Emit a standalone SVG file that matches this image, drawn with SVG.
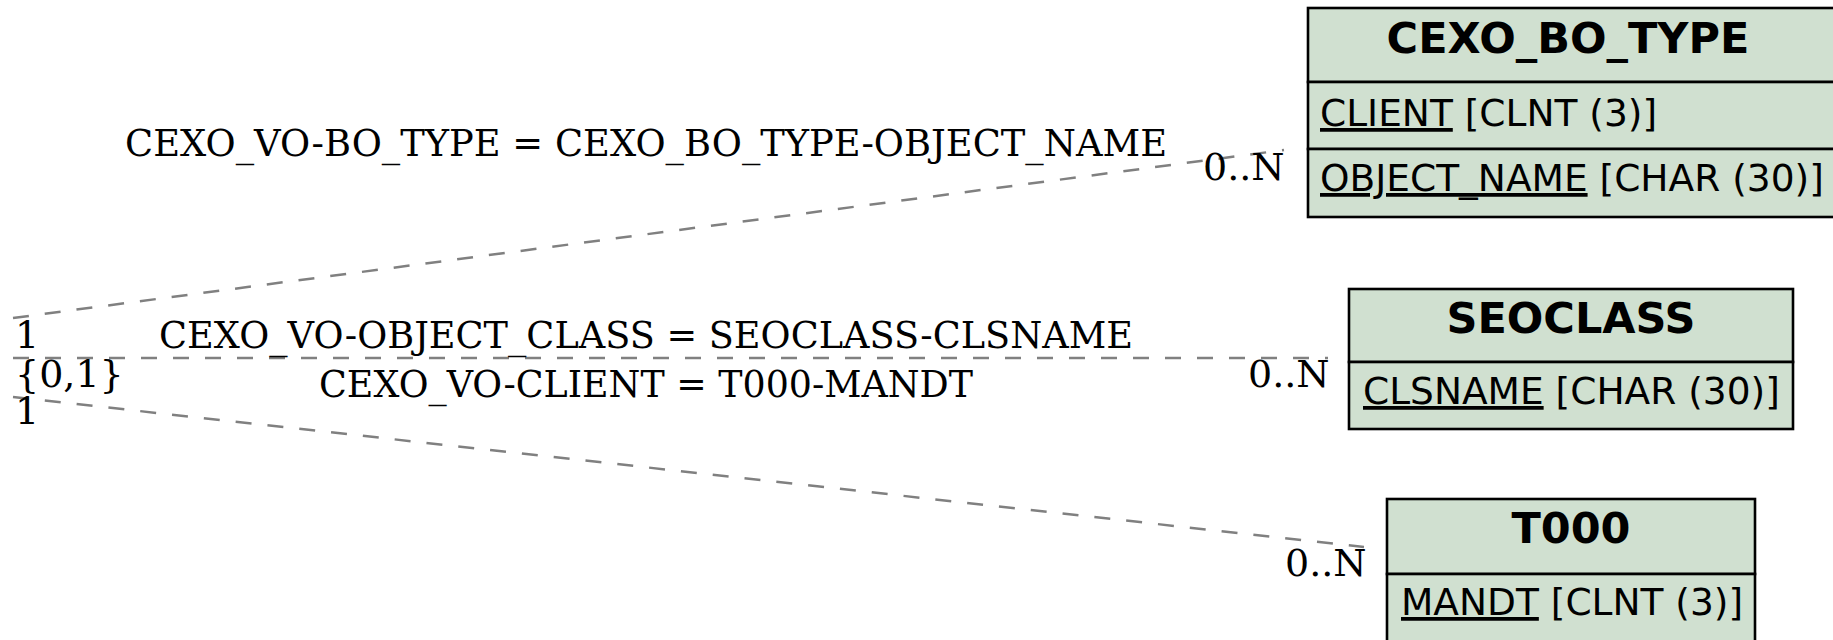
<svg xmlns="http://www.w3.org/2000/svg" width="1833" height="640" viewBox="0 0 1833 640">
<style>
.box{fill:#d0e0d0;stroke:#000;stroke-width:2.6}
.hdr{font-family:"DejaVu Sans",sans-serif;font-weight:bold;font-size:43px;text-anchor:middle;fill:#000}
.att{font-family:"DejaVu Sans",sans-serif;font-size:37.5px;fill:#000}
.key{text-decoration:underline}
.lbl{font-family:"DejaVu Serif",serif;font-size:38px;fill:#000}
.edge{fill:none;stroke:#808080;stroke-width:2.5;stroke-dasharray:16,16}
</style>
<rect width="1833" height="640" fill="#fff"/>
<g id="connectors">
<path class="edge" d="M13,318 L1284,150"/>
<path class="edge" d="M13,358 L1328,358"/>
<path class="edge" d="M13,397 L1364,547"/>
<text class="lbl" x="125" y="156" textLength="1042" lengthAdjust="spacingAndGlyphs">CEXO_VO-BO_TYPE = CEXO_BO_TYPE-OBJECT_NAME</text>
<text class="lbl" x="1203" y="180">0..N</text>
<text class="lbl" x="15" y="348">1</text>
<text class="lbl" x="159" y="348" textLength="974" lengthAdjust="spacingAndGlyphs">CEXO_VO-OBJECT_CLASS = SEOCLASS-CLSNAME</text>
<text class="lbl" x="1248" y="387">0..N</text>
<text class="lbl" x="15" y="387">{0,1}</text>
<text class="lbl" x="319" y="397" textLength="654" lengthAdjust="spacingAndGlyphs">CEXO_VO-CLIENT = T000-MANDT</text>
<text class="lbl" x="15" y="424">1</text>
<text class="lbl" x="1285" y="576">0..N</text>
</g>
<g id="CEXO_BO_TYPE">
<rect class="box" x="1308" y="8" width="528" height="74"/>
<rect class="box" x="1308" y="82" width="528" height="67"/>
<rect class="box" x="1308" y="149" width="528" height="68"/>
<text class="hdr" x="1568" y="53">CEXO_BO_TYPE</text>
<text class="att" x="1320" y="126"><tspan class="key">CLIENT</tspan> [CLNT (3)]</text>
<text class="att" x="1320" y="191"><tspan class="key">OBJECT_NAME</tspan> [CHAR (30)]</text>
</g>
<g id="SEOCLASS">
<rect class="box" x="1349" y="289" width="444" height="73"/>
<rect class="box" x="1349" y="362" width="444" height="67"/>
<text class="hdr" x="1571" y="333">SEOCLASS</text>
<text class="att" x="1363" y="404"><tspan class="key">CLSNAME</tspan> [CHAR (30)]</text>
</g>
<g id="T000">
<rect class="box" x="1387" y="499" width="368" height="75"/>
<rect class="box" x="1387" y="574" width="368" height="72"/>
<text class="hdr" x="1571" y="543">T000</text>
<text class="att" x="1401" y="615"><tspan class="key">MANDT</tspan> [CLNT (3)]</text>
</g>
</svg>
